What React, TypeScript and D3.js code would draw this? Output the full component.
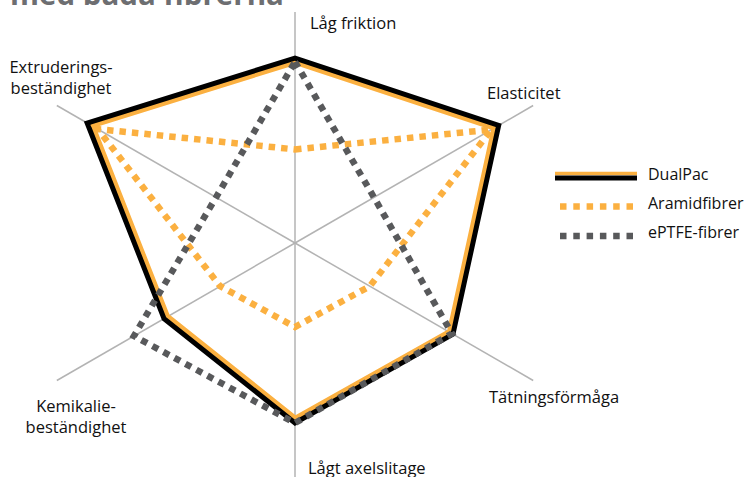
import * as d3 from 'd3';
import React from 'react';

// axes, clockwise from the top
const axes = [
  'Låg friktion',
  'Elasticitet',
  'Tätningsförmåga',
  'Lågt axelslitage',
  'Kemikalie-beständighet',
  'Extruderings-beständighet',
];

// scores (0-10)
const dualPac = [7.7, 9.8, 7.6, 7.5, 6.3, 10.0];
const aramid = [3.9, 9.45, 3.6, 3.5, 3.6, 9.5];
const eptfe = [7.55, 3.8, 7.55, 7.5, 7.75, 3.8];

const seriesNames = ['DualPac', 'Aramidfibrer', 'ePTFE-fibrer'];

const width = 748;
const height = 477;
const cx = 295;
const cy = 243;
const font = '"Open Sans", sans-serif';
const orange = '#FBB040';
const grey = '#58595B';

// label layout: x, first baseline, anchor
const labelPos = [
  { x: 310, y: 29, anchor: 'start' },
  { x: 487, y: 99, anchor: 'start' },
  { x: 489, y: 403, anchor: 'start' },
  { x: 308, y: 474, anchor: 'start' },
  { x: 76, y: 412, anchor: 'middle' },
  { x: 61, y: 73, anchor: 'middle' },
];

export default function App() {
  const r = d3.scaleLinear().domain([0, 10]).range([0, 240]);
  const angle = (i: number) => (i * Math.PI) / 3;

  const radar = d3
    .lineRadial<number>()
    .angle((d, i) => angle(i))
    .radius(d => r(d))
    .curve(d3.curveLinearClosed);

  // outer end of each spoke (top one is shorter in the original)
  const spokeLen = (i: number) => (i === 0 ? 231 : 275);

  return (
    <svg width={width} height={height} style={{ position: 'absolute', left: 0, top: 0 }}>
      <defs>
        <clipPath id="dualInside">
          <path d={radar(dualPac) || ''} transform={`translate(${cx},${cy})`} />
        </clipPath>
      </defs>

      <text x={10} y={5} fontFamily={font} fontWeight={700} fontSize={29.5} fill="#6D6E71">
        med båda fibrerna
      </text>

      {/* spokes */}
      <g transform={`translate(${cx},${cy})`}>
        {axes.map((a, i) => (
          <line
            key={a}
            x1={0}
            y1={0}
            x2={Math.sin(angle(i)) * spokeLen(i)}
            y2={-Math.cos(angle(i)) * spokeLen(i)}
            stroke="#B3B3B3"
            strokeWidth={1.5}
          />
        ))}
      </g>

      {/* DualPac: orange band inside a black outline */}
      <g clipPath="url(#dualInside)">
        <path
          d={radar(dualPac) || ''}
          transform={`translate(${cx},${cy})`}
          fill="none"
          stroke={orange}
          strokeWidth={13}
          strokeLinejoin="miter"
        />
      </g>
      <g transform={`translate(${cx},${cy})`}>
        <path d={radar(dualPac) || ''} fill="none" stroke="#000" strokeWidth={5} strokeLinejoin="miter" />
        <path
          d={radar(aramid) || ''}
          fill="none"
          stroke={orange}
          strokeWidth={6.5}
          strokeDasharray="6.5 6"
        />
        <path
          d={radar(eptfe) || ''}
          fill="none"
          stroke={grey}
          strokeWidth={6.5}
          strokeDasharray="6.5 6"
        />
      </g>

      {/* axis labels, hyphenated ones wrap onto two lines */}
      {axes.map((a, i) => {
        const p = labelPos[i];
        const lines = a.includes('-') ? [a.split('-')[0] + '-', a.split('-')[1]] : [a];
        return lines.map((l, j) => (
          <text
            key={a + j}
            x={p.x}
            y={p.y + j * 20.5}
            textAnchor={p.anchor}
            fontFamily={font}
            fontSize={16.5}
            fill="#111"
          >
            {l}
          </text>
        ));
      })}

      {/* legend */}
      <g fontFamily={font} fontSize={16} fill="#111">
        <line x1={555} x2={637} y1={173.5} y2={173.5} stroke={orange} strokeWidth={3.5} />
        <line x1={555} x2={637} y1={178} y2={178} stroke="#000" strokeWidth={5} />
        <text x={648} y={180}>{seriesNames[0]}</text>
        <line x1={560} x2={637} y1={206.5} y2={206.5} stroke={orange} strokeWidth={6.5} strokeDasharray="6.5 6.8" />
        <text x={648} y={209}>{seriesNames[1]}</text>
        <line x1={560} x2={637} y1={236} y2={236} stroke={grey} strokeWidth={6.5} strokeDasharray="6.5 6.8" />
        <text x={648} y={238}>{seriesNames[2]}</text>
      </g>
    </svg>
  );
}
